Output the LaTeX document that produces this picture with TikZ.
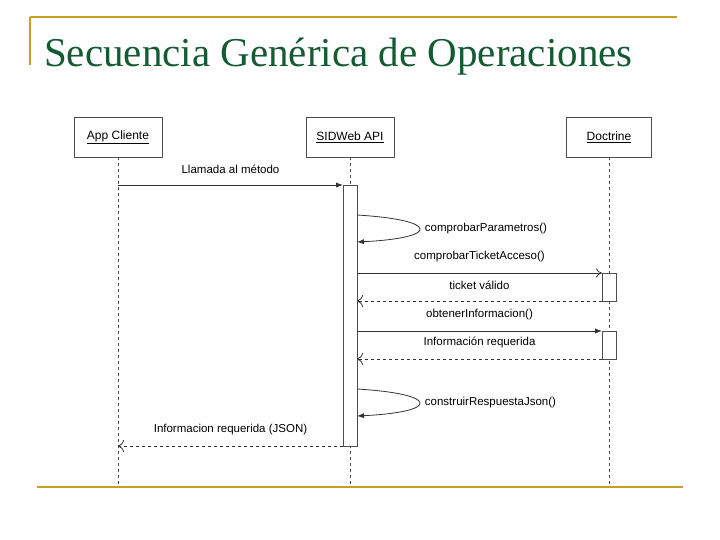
\documentclass[tikz,border=0pt]{standalone}
\usepackage{fontspec}
\setmainfont{Liberation Serif}
\newfontfamily\umlfont{Liberation Sans}
\usetikzlibrary{arrows.meta}
\definecolor{gold}{RGB}{200,160,40}
\definecolor{titlegreen}{RGB}{20,90,50}
\tikzset{
  actorbox/.style={draw=black!70,fill=white,line width=0.8pt,minimum width=88pt,minimum height=40pt,font=\umlfont\fontsize{12}{14}\selectfont},
  lifeline/.style={draw=black!70,dashed,line width=0.8pt},
  actbar/.style={draw=black!70,fill=white,line width=0.8pt},
  msg/.style={font=\umlfont\fontsize{11.5}{13}\selectfont,inner sep=0.75pt},
  callarrow/.style={draw=black!80,line width=0.8pt,-{Latex[length=7pt]}},
  retarrow/.style={draw=black!80,line width=0.8pt,dashed,-{To[length=6pt,width=12pt]}}
}
\begin{document}
\begin{tikzpicture}[x=1pt,y=1pt,yscale=-1,xscale=1]
\useasboundingbox (0,0) rectangle (720,540);

% title
\draw[gold,line width=2.5pt] (30,17) -- (677,17);
\draw[gold,line width=2.5pt] (30,17) -- (30,65);
\draw[gold,line width=2.5pt] (37,487) -- (683,487);
\node[anchor=base west,text=titlegreen,font=\fontsize{41}{44}\selectfont,inner sep=0pt] (title) at (44,67) {Secuencia Genérica de Operaciones};

% actors
\node[actorbox] (cli) at (118,137) {\underline{App Cliente}};
\node[actorbox] (api) at (350,137) {\underline{SIDWeb API}};
\node[actorbox,minimum width=85pt] (doc) at (609,137) {\underline{Doctrine}};
\coordinate (cliend) at (118,487);
\coordinate (apiend) at (350,487);
\coordinate (docend) at (609,487);
\draw[lifeline] (cli.south) -- (cliend);
\draw[lifeline] (api.south) -- (apiend);
\draw[lifeline] (doc.south) -- (docend);

% activations
\draw[actbar] (343,185) rectangle (357,446);
\draw[actbar] (602,273) rectangle (616,301);
\draw[actbar] (602,331) rectangle (616,359);

% messages
\coordinate (c1) at (118,185); \coordinate (a1) at (343,185);
\draw[callarrow] (c1) -- (a1) node[msg,midway,above=10pt] {Llamada al método};

\coordinate (s1) at (357,215); \coordinate (s2) at (357,242);
\draw[callarrow] (s1) .. controls (440,220) and (440,238) .. (s2);
\node[msg,anchor=west] (m2) at (424,229) {comprobarParametros()};

\coordinate (a3) at (357,273); \coordinate (d3) at (602,273);
\draw[draw=black!80,line width=0.8pt,-{To[length=6pt,width=9pt]}] (a3) -- (d3) node[msg,midway,above=10pt] {comprobarTicketAcceso()};
\coordinate (d4) at (602,301); \coordinate (a4) at (357,301);
\draw[retarrow] (d4) -- (a4) node[msg,midway,above=10pt] {ticket válido};

\coordinate (a5) at (357,331); \coordinate (d5) at (602,331);
\draw[callarrow] (a5) -- (d5) node[msg,midway,above=10pt] {obtenerInformacion()};
\coordinate (d6) at (602,359); \coordinate (a6) at (357,359);
\draw[retarrow] (d6) -- (a6) node[msg,midway,above=10pt] {Información requerida};

\coordinate (s3) at (357,389); \coordinate (s4) at (357,416);
\draw[callarrow] (s3) .. controls (440,394) and (440,412) .. (s4);
\node[msg,anchor=west] (m7) at (424,403) {construirRespuestaJson()};

\coordinate (a8) at (343,446); \coordinate (c8) at (118,446);
\draw[retarrow] (a8) -- (c8) node[msg,midway,above=10pt] {Informacion requerida (JSON)};
\end{tikzpicture}
\end{document}
